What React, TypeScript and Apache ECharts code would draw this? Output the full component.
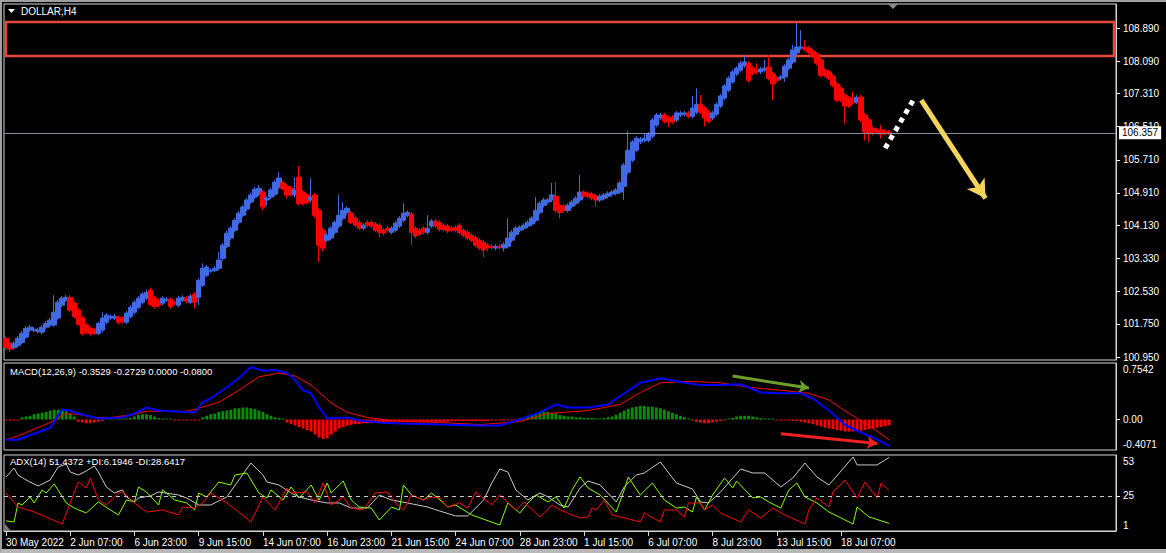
import React, { useEffect, useRef } from 'react';
import * as echarts from 'echarts';

// ---------- data ----------
const chartTitle = 'DOLLAR,H4';
const macdTitle = 'MACD(12,26,9) -0.3529 -0.2729 0.0000 -0.0800';
const adxTitle = 'ADX(14) 51.4372 +DI:6.1946 -DI:28.6417';

const timeTicks = ['30 May 2022', '2 Jun 07:00', '6 Jun 23:00', '9 Jun 15:00', '14 Jun 07:00', '16 Jun 23:00', '21 Jun 15:00', '24 Jun 07:00', '28 Jun 23:00', '1 Jul 15:00', '6 Jul 07:00', '8 Jul 23:00', '13 Jul 15:00', '18 Jul 07:00'];
const barsPerTick = 16;
const totalSlots = 277;

const priceTicks = [108.89, 108.09, 107.31, 106.51, 105.71, 104.91, 104.13, 103.33, 102.53, 101.75, 100.95];
const priceMin = 100.878;
const priceMax = 109.47;
const lastPrice = 106.357;
const zoneTop = 109.035;
const zoneBottom = 108.213;

// [open, close, low, high]
const candles = [
  [101.40,101.18,101.12,101.45],[101.28,101.14,101.07,101.32],[101.18,101.28,101.13,101.33],[101.23,101.40,101.18,101.46],[101.30,101.52,101.26,101.58],
  [101.43,101.64,101.39,101.70],[101.60,101.67,101.55,101.72],[101.60,101.62,101.55,101.68],[101.57,101.60,101.52,101.65],[101.55,101.67,101.50,101.72],
  [101.67,101.76,101.62,101.82],[101.72,101.84,101.66,101.90],[101.72,102.03,101.68,102.44],[101.89,102.27,101.85,102.33],[102.20,102.37,102.15,102.42],
  [102.32,102.39,102.28,102.45],[102.39,102.08,102.03,102.44],[102.25,101.93,101.88,102.30],[102.08,101.74,101.70,102.12],[101.89,101.52,101.47,101.93],
  [101.72,101.55,101.50,101.76],[101.64,101.52,101.45,101.68],[101.62,101.52,101.48,101.66],[101.52,101.76,101.48,101.80],[101.60,101.89,101.55,102.03],
  [101.79,101.96,101.74,102.01],[101.89,101.93,101.85,101.98],[101.89,101.93,101.84,101.99],[101.91,101.79,101.74,101.95],[101.89,101.81,101.76,101.93],
  [101.79,102.01,101.74,102.06],[101.93,102.15,101.88,102.20],[102.03,102.27,101.98,102.32],[102.15,102.37,102.10,102.42],[102.27,102.47,102.22,102.52],
  [102.37,102.51,102.32,102.58],[102.56,102.22,102.18,102.63],[102.37,102.17,102.12,102.42],[102.32,102.20,102.15,102.37],[102.25,102.37,102.20,102.42],
  [102.32,102.34,102.28,102.40],[102.34,102.17,102.12,102.39],[102.27,102.25,102.20,102.31],[102.20,102.37,102.15,102.42],[102.32,102.39,102.28,102.44],
  [102.37,102.30,102.25,102.42],[102.27,102.42,102.22,102.47],[102.47,102.27,102.12,102.52],[102.39,102.80,102.20,102.85],[102.68,103.09,102.64,103.21],
  [102.92,103.12,102.88,103.17],[103.02,103.04,102.98,103.09],[103.04,103.09,103.00,103.14],[103.09,103.29,103.05,103.48],[103.33,103.65,103.28,103.70],
  [103.62,103.94,103.57,104.00],[103.82,104.06,103.78,104.11],[104.01,104.25,103.96,104.30],[104.20,104.42,104.15,104.47],[104.37,104.57,104.32,104.62],
  [104.52,104.74,104.47,104.79],[104.69,104.86,104.64,104.92],[104.81,105.00,104.76,105.06],[104.88,105.02,104.83,105.10],[104.93,104.57,104.49,104.98],
  [104.74,104.78,104.60,104.83],[104.81,104.98,104.76,105.03],[104.88,105.17,104.83,105.22],[105.05,105.27,105.00,105.41],[105.15,105.02,104.97,105.20],
  [105.07,104.86,104.78,105.12],[105.02,104.88,104.83,105.07],[104.86,104.98,104.80,105.29],[105.29,104.66,104.61,105.56],[104.93,104.66,104.60,104.98],
  [104.86,104.69,104.64,104.91],[104.74,104.81,104.69,105.27],[104.86,104.37,104.32,104.91],[104.49,103.65,103.24,104.54],[104.01,103.58,103.50,104.06],
  [103.77,103.89,103.72,103.94],[103.82,104.06,103.77,104.11],[103.96,104.20,103.91,104.25],[104.11,104.37,104.06,104.86],[104.30,104.49,104.25,104.69],
  [104.44,104.54,104.39,104.59],[104.42,104.20,104.15,104.47],[104.30,104.13,104.08,104.35],[104.20,104.06,104.01,104.25],[104.06,104.13,104.01,104.18],
  [104.20,104.13,104.08,104.25],[104.20,104.11,104.06,104.25],[104.16,104.01,103.96,104.21],[104.13,103.96,103.84,104.18],[104.01,103.94,103.89,104.06],
  [104.06,104.01,103.96,104.11],[103.96,104.06,103.91,104.11],[104.01,104.18,103.96,104.23],[104.11,104.30,104.06,104.35],[104.25,104.42,104.20,104.66],
  [104.37,104.44,104.32,104.49],[104.40,103.96,103.65,104.45],[104.06,103.87,103.82,104.11],[104.01,103.91,103.86,104.06],[104.06,103.96,103.91,104.11],
  [103.96,104.06,103.91,104.37],[104.11,104.23,104.06,104.28],[104.23,104.11,104.06,104.28],[104.20,104.03,103.98,104.25],[104.13,104.03,103.98,104.18],
  [104.11,103.99,103.94,104.16],[104.06,104.01,103.96,104.11],[104.08,104.01,103.96,104.13],[104.13,103.96,103.91,104.18],[104.01,103.89,103.84,104.06],
  [103.96,103.82,103.77,104.01],[103.89,103.77,103.72,103.94],[103.84,103.65,103.60,103.89],[103.77,103.58,103.53,103.82],[103.72,103.53,103.36,103.77],
  [103.65,103.58,103.50,103.70],[103.62,103.60,103.55,103.67],[103.58,103.62,103.53,103.67],[103.62,103.60,103.55,103.67],[103.58,103.67,103.50,103.72],
  [103.62,103.82,103.57,104.30],[103.77,103.96,103.72,104.01],[103.91,104.06,103.86,104.11],[104.01,104.08,103.96,104.13],[104.06,104.13,104.01,104.18],
  [104.11,104.20,104.06,104.25],[104.16,104.30,104.11,104.35],[104.25,104.49,104.20,104.81],[104.44,104.66,104.39,104.71],[104.61,104.74,104.56,104.79],
  [104.69,104.74,104.64,104.79],[104.74,104.86,104.69,105.15],[104.83,104.49,104.44,105.17],[104.61,104.44,104.30,104.66],[104.59,104.49,104.44,104.64],
  [104.49,104.61,104.44,104.66],[104.59,104.69,104.54,104.74],[104.66,104.78,104.61,104.83],[104.74,104.93,104.69,105.34],[104.93,104.83,104.78,104.98],
  [104.90,104.83,104.78,104.95],[104.88,104.78,104.73,104.93],[104.83,104.74,104.57,104.88],[104.74,104.83,104.69,104.88],[104.78,104.86,104.73,104.91],
  [104.83,104.90,104.78,104.95],[104.88,104.93,104.83,104.98],[104.90,104.98,104.85,105.03],[104.93,105.15,104.88,105.20],[105.07,105.58,104.74,105.63],
  [105.41,105.94,105.36,106.40],[105.70,106.14,105.65,106.19],[105.94,106.23,105.89,106.28],[106.14,106.21,106.09,106.26],[106.18,106.23,106.13,106.35],
  [106.18,106.33,106.13,106.38],[106.28,106.67,106.23,106.72],[106.55,106.79,106.50,106.84],[106.72,106.79,106.67,106.84],[106.79,106.64,106.59,106.84],
  [106.72,106.62,106.50,106.77],[106.74,106.62,106.57,106.79],[106.67,106.84,106.62,106.89],[106.79,106.84,106.74,106.89],[106.81,106.84,106.76,106.89],
  [106.84,106.76,106.71,106.89],[106.76,106.96,106.71,107.25],[106.86,107.05,106.81,107.44],[107.05,106.86,106.81,107.27],[106.96,106.72,106.52,107.01],
  [106.86,106.64,106.59,106.91],[106.72,106.84,106.67,106.89],[106.81,107.05,106.76,107.10],[107.01,107.25,106.96,107.30],[107.20,107.49,107.15,107.54],
  [107.39,107.68,107.34,107.73],[107.59,107.83,107.54,107.88],[107.78,107.92,107.73,107.97],[107.87,108.04,107.82,108.09],[107.98,108.07,107.93,108.24],
  [108.04,107.63,107.58,108.09],[107.92,107.80,107.75,107.97],[107.87,107.83,107.78,108.04],[107.83,107.90,107.78,107.95],[107.87,107.92,107.82,108.12],
  [107.95,107.68,107.63,108.24],[107.78,107.54,107.15,107.83],[107.68,107.63,107.58,107.73],[107.68,107.71,107.63,107.76],[107.71,107.97,107.59,108.02],
  [107.92,108.12,107.87,108.17],[108.07,108.36,108.02,108.48],[108.29,108.43,108.24,109.01],[108.41,108.43,108.36,108.84],[108.41,108.38,108.33,108.60],
  [108.41,108.31,108.26,108.46],[108.33,108.21,108.16,108.38],[108.26,108.04,107.99,108.31],[108.12,107.75,107.70,108.17],[107.87,107.75,107.70,107.92],
  [107.83,107.68,107.63,107.88],[107.73,107.51,107.46,107.78],[107.54,107.15,107.10,107.59],[107.44,107.15,107.10,107.49],[107.27,107.01,106.59,107.32],
  [107.20,107.01,106.96,107.25],[107.15,107.10,107.05,107.35],[107.10,107.22,107.05,107.27],[107.22,106.67,106.62,107.27],[106.79,106.38,106.18,106.84],
  [106.67,106.35,106.14,106.72],[106.47,106.38,106.30,106.52],[106.43,106.40,106.35,106.48],[106.43,106.33,106.23,106.55],[106.40,106.35,106.30,106.45],
  [106.38,106.36,106.31,106.43],
];

// MACD
const macdMax = 0.7542;
const macdMin = -0.4071;
const macdHist = [
  -0.01,-0.01,-0.01,-0.01,0.03,0.04,0.05,0.07,0.08,0.09,
  0.1,0.12,0.13,0.13,0.13,0.11,0.08,0.04,-0.03,-0.04,
  -0.05,-0.05,-0.04,-0.03,-0.02,0.01,0.01,0.01,0.01,0.01,
  0.01,0.02,0.04,0.06,0.07,0.07,0.06,0.04,0.02,0.01,
  0.01,0.01,-0.01,-0.01,-0.01,-0.01,-0.01,-0.01,-0.01,0.03,
  0.05,0.07,0.08,0.1,0.11,0.12,0.13,0.15,0.15,0.16,
  0.16,0.15,0.14,0.12,0.1,0.07,0.05,0.03,0.02,0.01,
  -0.04,-0.06,-0.08,-0.1,-0.12,-0.14,-0.16,-0.2,-0.24,-0.26,
  -0.25,-0.2,-0.16,-0.12,-0.1,-0.08,-0.07,-0.06,-0.06,-0.05,
  -0.05,-0.05,-0.04,-0.04,-0.04,-0.04,-0.03,-0.03,-0.03,-0.03,
  -0.03,-0.03,-0.03,-0.03,-0.03,-0.03,-0.03,-0.03,-0.03,-0.03,
  -0.03,-0.02,-0.02,-0.02,-0.02,-0.02,-0.02,-0.02,-0.02,-0.02,
  -0.02,-0.01,-0.01,-0.01,-0.01,-0.01,-0.01,-0.01,0.01,0.03,
  0.05,0.07,0.08,0.09,0.1,0.1,0.09,0.08,0.06,0.05,
  0.04,0.04,0.03,0.03,0.02,0.02,0.02,0.01,0.01,0.02,
  0.03,0.04,0.06,0.09,0.12,0.14,0.16,0.17,0.18,0.18,
  0.17,0.17,0.16,0.15,0.13,0.11,0.09,0.07,0.05,0.03,
  0.01,-0.01,-0.03,-0.04,-0.05,-0.05,-0.04,-0.03,-0.02,-0.01,
  0.01,0.02,0.04,0.05,0.05,0.05,0.04,0.03,0.02,0.01,
  0.01,0.005,-0.01,-0.01,-0.01,-0.01,-0.02,-0.02,-0.03,-0.04,
  -0.05,-0.06,-0.08,-0.09,-0.11,-0.12,-0.13,-0.14,-0.15,-0.16,
  -0.16,-0.16,-0.15,-0.15,-0.14,-0.13,-0.12,-0.11,-0.1,-0.09,
  -0.08,
];
// [bar index, value]
const macdMain = [[0,-0.27],[3,-0.27],[11,-0.11],[14,0.135],[16,0.12],[18,0.08],[20,0.054],[23,0.014],[29,0.027],[32,0.08],[35,0.16],[38,0.12],[41,0.11],[47,0.095],[49,0.23],[51,0.28],[55,0.43],[58,0.55],[61,0.70],[64,0.65],[67,0.66],[70,0.62],[72,0.53],[74,0.39],[76,0.35],[78,0.16],[80,0.014],[85,0.027],[88,-0.014],[93,-0.04],[98,-0.054],[108,-0.068],[118,-0.08],[123,-0.08],[128,0],[133,0.095],[137,0.2],[140,0.16],[145,0.16],[150,0.2],[154,0.35],[158,0.49],[163,0.55],[168,0.5],[173,0.46],[178,0.46],[183,0.47],[188,0.36],[193,0.35],[198,0.35],[201,0.28],[205,0.12],[209,-0.07],[212,-0.15],[216,-0.24],[220,-0.353]];
const macdSignal = [[0,-0.27],[3,-0.22],[11,-0.04],[15,0.08],[18,0.068],[22,0.027],[26,0.027],[32,0.068],[35,0.11],[45,0.11],[48,0.15],[53,0.23],[58,0.39],[63,0.57],[68,0.62],[72,0.58],[76,0.46],[81,0.22],[85,0.095],[90,0.027],[98,-0.027],[108,-0.04],[118,-0.068],[128,-0.027],[135,0.08],[145,0.12],[153,0.2],[158,0.36],[163,0.49],[170,0.51],[178,0.49],[185,0.43],[193,0.39],[200,0.35],[205,0.26],[210,0.08],[215,-0.08],[220,-0.273]];

// ADX
const adxMax = 53;
const adxMin = 1;
const adxLevel = 25;
const adxMain = [[0,37.9],[2,44.1],[3,39.3],[5,35.9],[8,31.8],[11,35.9],[13,44.8],[15,46.8],[16,41.4],[18,39.3],[20,42.1],[22,45.5],[23,41.4],[25,31.1],[27,27.0],[29,29.1],[30,24.3],[32,20.9],[33,23.6],[36,25.0],[38,27.7],[43,25.6],[45,23.6],[48,18.8],[51,18.8],[55,24.3],[58,35.9],[61,47.5],[64,39.3],[65,34.5],[68,32.5],[71,27.0],[73,24.3],[76,22.2],[80,20.2],[83,20.2],[86,16.7],[90,16.7],[93,25.6],[96,22.2],[100,20.2],[105,17.4],[108,14.7],[112,11.3],[115,11.3],[119,22.2],[121,33.8],[123,43.4],[125,41.4],[127,29.1],[130,22.2],[133,27.0],[135,24.3],[138,18.8],[140,17.4],[143,30.4],[145,35.2],[148,32.5],[152,20.9],[154,31.1],[157,39.3],[159,40.7],[163,48.2],[167,33.8],[171,29.7],[173,20.9],[175,20.2],[178,27.7],[183,43.4],[186,40.7],[189,40.7],[193,31.1],[196,37.3],[199,47.5],[202,38.0],[205,32.5],[211,51.6],[212,46.2],[217,46.2],[220,51.4]];
const plusDI = [[0,7.9],[2,7.2],[3,20.2],[4,18.8],[6,24.3],[7,20.2],[9,29.1],[10,27.0],[12,33.2],[15,20.2],[17,16.7],[20,13.3],[23,20.9],[26,15.4],[28,12.0],[30,22.2],[32,20.9],[33,31.1],[35,27.7],[38,18.8],[39,29.1],[42,22.2],[45,20.2],[47,15.4],[48,27.0],[50,24.3],[53,34.5],[56,32.5],[57,39.3],[60,40.7],[63,27.0],[65,23.6],[66,29.1],[69,22.2],[71,31.1],[73,23.6],[76,32.5],[78,22.2],[80,33.8],[81,27.0],[84,35.2],[86,22.2],[88,17.4],[91,16.7],[93,8.5],[96,17.4],[98,15.4],[99,32.5],[101,25.6],[104,22.2],[106,27.0],[109,20.2],[110,17.4],[112,18.8],[116,12.0],[123,5.1],[125,20.2],[128,13.3],[130,20.2],[132,25.6],[135,20.9],[137,24.3],[139,16.7],[141,29.1],[143,38.0],[145,30.4],[148,25.6],[152,14.0],[154,29.1],[155,38.0],[158,25.6],[161,33.8],[164,22.2],[167,16.7],[169,17.4],[171,14.0],[172,24.3],[174,15.4],[176,25.6],[179,37.3],[181,30.4],[182,35.2],[186,23.6],[188,24.3],[190,20.9],[193,16.7],[195,29.1],[197,33.8],[199,24.3],[202,20.2],[205,14.0],[211,5.8],[212,17.4],[215,10.6],[220,6.2]];
const minusDI = [[0,27.0],[3,17.4],[7,14.0],[10,10.6],[14,5.8],[18,34.5],[20,30.4],[21,37.3],[23,22.2],[25,18.8],[28,27.0],[29,27.7],[32,20.2],[35,14.0],[39,15.4],[43,12.0],[44,17.4],[47,16.7],[49,20.2],[51,27.0],[55,20.2],[58,14.0],[61,7.2],[64,24.3],[67,15.4],[70,30.4],[71,27.0],[75,27.7],[77,20.2],[79,33.8],[81,18.8],[84,24.3],[86,16.7],[89,15.4],[92,27.0],[95,27.7],[97,20.2],[99,15.4],[101,25.6],[104,22.2],[106,24.3],[108,23.6],[110,17.4],[113,20.2],[115,16.7],[117,27.7],[121,18.8],[123,25.6],[127,15.4],[129,20.9],[133,10.6],[136,18.8],[138,15.4],[141,12.0],[143,9.9],[145,10.6],[146,16.7],[147,15.4],[149,22.2],[151,12.0],[158,7.2],[159,13.3],[163,7.2],[164,15.4],[167,15.4],[169,10.6],[170,20.2],[173,20.2],[174,15.4],[176,18.8],[178,13.3],[183,7.2],[185,15.4],[188,9.9],[191,16.7],[194,12.0],[199,5.8],[200,15.4],[202,23.6],[205,17.4],[206,27.7],[209,35.9],[212,23.6],[214,34.5],[217,23.6],[218,33.8],[220,28.6]];

// drawn annotations: [bar index, value]
const yellowArrow = [[228, 107.15], [244, 104.78]];
const whiteDots = [[219, 105.99], [226, 107.15]];
const greenArrow = [[181, 0.58], [200, 0.42]];
const redArrow = [[193, -0.19], [217, -0.32]];

// ---------- component ----------
export default function App() {
  const ref = useRef<HTMLDivElement>(null);

  useEffect(() => {
    const chart = echarts.init(ref.current!, null, { renderer: 'svg' });
    const cats = Array.from({ length: totalSlots }, (_, i) => String(i));
    const font = 'Liberation Sans, Arial, sans-serif';
    const white = '#ffffff';
    const frame = '#d4d4d4';
    const L = 4;
    const W = 1112;
    const grids = [
      { left: L, top: 4, width: W, height: 356 },
      { left: L, top: 363, width: W, height: 87 },
      { left: L, top: 455, width: W, height: 76 },
    ].map((g) => ({ ...g, show: true, borderColor: frame, borderWidth: 1, backgroundColor: 'transparent', containLabel: false }));

    const tickShown = (idx: number) => idx % barsPerTick === 0 && idx / barsPerTick < timeTicks.length;

    const xAxes = [0, 1, 2].map((gi) => ({
      type: 'category',
      gridIndex: gi,
      data: cats,
      boundaryGap: true,
      show: gi === 2,
      axisLine: { show: true, lineStyle: { color: frame, width: 1 } },
      axisTick: { show: true, alignWithLabel: true, interval: (i: number) => tickShown(i), length: 5, lineStyle: { color: frame } },
      axisLabel: {
        show: true,
        interval: (i: number) => tickShown(i),
        formatter: (_v: string, i: number) => timeTicks[i / barsPerTick] ?? '',
        align: 'left',
        color: white,
        fontSize: 10,
        fontFamily: font,
        margin: 6,
      },
      splitLine: { show: false },
    }));

    const yCommon = {
      type: 'value',
      position: 'right',
      splitLine: { show: false },
      axisLine: { show: true, lineStyle: { color: frame } },
    };
    const lblStyle = { color: white, fontSize: 10, fontFamily: font, margin: 7, lineHeight: 12 };

    const yAxes = [
      {
        ...yCommon,
        gridIndex: 0,
        min: priceMin,
        max: priceMax,
        axisTick: { show: true, customValues: priceTicks, length: 4, lineStyle: { color: white } },
        axisLabel: { ...lblStyle, customValues: priceTicks, formatter: (v: number) => v.toFixed(3) },
      },
      {
        ...yCommon,
        gridIndex: 1,
        min: macdMin,
        max: macdMax,
        axisTick: { show: true, customValues: [0], length: 4, lineStyle: { color: white } },
        axisLabel: {
          ...lblStyle,
          customValues: [macdMax, 0, macdMin],
          formatter: (v: number) => (v === macdMax ? '\n' + macdMax.toFixed(4) : v === macdMin ? macdMin.toFixed(4) + '\n' : '0.00'),
        },
      },
      {
        ...yCommon,
        gridIndex: 2,
        min: adxMin,
        max: adxMax,
        axisTick: { show: true, customValues: [adxLevel], length: 4, lineStyle: { color: white } },
        axisLabel: {
          ...lblStyle,
          customValues: [adxMax, adxLevel, adxMin],
          formatter: (v: number) => (v === adxMax ? '\n' + adxMax : v === adxMin ? adxMin + '\n' : String(v)),
        },
      },
    ];

    const pt = (p: number[], extra: any = {}) => ({ coord: [String(p[0]), p[1]], ...extra });
    const titleStyle = { color: white, fontSize: 10, fontWeight: 'normal', fontFamily: font };

    const option: any = {
      animation: false,
      backgroundColor: '#000000',
      textStyle: { fontFamily: font },
      title: [
        { text: chartTitle, left: 21, top: 6, padding: 0, textStyle: titleStyle },
        { text: macdTitle, left: 10, top: 366, padding: 0, textStyle: { ...titleStyle, fontSize: 9.5 } },
        { text: adxTitle, left: 10, top: 456, padding: 0, textStyle: { ...titleStyle, fontSize: 9.5 } },
      ],
      graphic: [
        { type: 'polygon', shape: { points: [[8, 9], [15, 9], [11.5, 13]] }, style: { fill: white } },
        { type: 'polygon', shape: { points: [[888, 4], [898, 4], [893, 9]] }, style: { fill: '#8a8a8a' } },
        { type: 'polygon', shape: { points: [[5, 524], [5, 531], [11, 531]] }, style: { fill: '#7a7a7a' } },
      ],
      grid: grids,
      xAxis: xAxes,
      yAxis: yAxes,
      series: [
        {
          name: 'price',
          type: 'candlestick',
          xAxisIndex: 0,
          yAxisIndex: 0,
          data: candles,
          barWidth: 5,
          itemStyle: { color: '#4169E1', color0: '#FF0000', borderColor: '#4169E1', borderColor0: '#FF0000', borderWidth: 1 },
          markArea: {
            silent: true,
            itemStyle: { color: 'transparent', borderColor: '#E8453C', borderWidth: 2.5 },
            data: [[{ xAxis: '0', yAxis: zoneTop }, { xAxis: String(totalSlots - 1), yAxis: zoneBottom }]],
          },
          markLine: {
            silent: true,
            symbol: ['none', 'none'],
            label: { show: false },
            data: [
              {
                yAxis: lastPrice,
                lineStyle: { color: '#7b8fa0', width: 1, type: 'solid' },
                label: {
                  show: true,
                  position: 'end',
                  formatter: lastPrice.toFixed(3),
                  backgroundColor: '#ffffff',
                  color: '#000000',
                  fontSize: 10,
                  fontFamily: font,
                  padding: [2, 3, 1, 3],
                  distance: 3,
                },
              },
              [
                pt(yellowArrow[0], { symbol: 'none', lineStyle: { color: '#F4D35E', width: 5, type: 'solid' } }),
                pt(yellowArrow[1], { symbol: 'arrow', symbolSize: [16, 18] }),
              ],
              [
                pt(whiteDots[0], { symbol: 'none', lineStyle: { color: '#ffffff', width: 5, type: [5, 5], cap: 'butt' } }),
                pt(whiteDots[1], { symbol: 'none' }),
              ],
            ],
          },
          z: 3,
        },
        {
          name: 'hist',
          type: 'bar',
          xAxisIndex: 1,
          yAxisIndex: 1,
          data: macdHist,
          barWidth: '72%',
          barMinHeight: 1,
          itemStyle: { color: (p: any) => (p.value >= 0 ? '#009000' : '#FF0000') },
        },
        {
          name: 'signal',
          type: 'line',
          xAxisIndex: 1,
          yAxisIndex: 1,
          data: macdSignal,
          symbol: 'none',
          lineStyle: { color: '#FF0000', width: 1 },
          z: 4,
        },
        {
          name: 'main',
          type: 'line',
          xAxisIndex: 1,
          yAxisIndex: 1,
          data: macdMain,
          symbol: 'none',
          lineStyle: { color: '#0000FF', width: 2 },
          z: 5,
          markLine: {
            silent: true,
            symbol: ['none', 'none'],
            label: { show: false },
            data: [
              [
                pt(greenArrow[0], { symbol: 'none', lineStyle: { color: '#6E9E2A', width: 3, type: 'solid' } }),
                pt(greenArrow[1], { symbol: 'arrow', symbolSize: [10, 10] }),
              ],
              [
                pt(redArrow[0], { symbol: 'none', lineStyle: { color: '#F22020', width: 3, type: 'solid' } }),
                pt(redArrow[1], { symbol: 'arrow', symbolSize: [10, 10] }),
              ],
            ],
          },
        },
        {
          name: 'ADX',
          type: 'line',
          xAxisIndex: 2,
          yAxisIndex: 2,
          data: adxMain,
          symbol: 'none',
          lineStyle: { color: '#c8c8c8', width: 1 },
          markLine: {
            silent: true,
            symbol: ['none', 'none'],
            label: { show: false },
            lineStyle: { color: '#c8c8c8', width: 1, type: [4, 4] },
            data: [{ yAxis: adxLevel }],
          },
        },
        {
          name: '+DI',
          type: 'line',
          xAxisIndex: 2,
          yAxisIndex: 2,
          data: plusDI,
          symbol: 'none',
          lineStyle: { color: '#80FF00', width: 1 },
        },
        {
          name: '-DI',
          type: 'line',
          xAxisIndex: 2,
          yAxisIndex: 2,
          data: minusDI,
          symbol: 'none',
          lineStyle: { color: '#FF0000', width: 1 },
        },
      ],
    };

    chart.setOption(option);
    return () => chart.dispose();
  }, []);

  return (
    <div style={{ position: 'fixed', left: 0, top: 0, width: 1166, height: 553, background: '#000', overflow: 'hidden' }}>
      <div ref={ref} style={{ position: 'absolute', left: 0, top: 0, width: 1166, height: 553 }} />
      <div
        style={{
          position: 'absolute',
          left: 0,
          top: 0,
          width: 1166,
          height: 553,
          boxSizing: 'border-box',
          borderTop: '2px solid #a0a0a0',
          borderLeft: '2px solid #a0a0a0',
          borderBottom: '4px solid #b8b8b8',
          pointerEvents: 'none',
        }}
      />
    </div>
  );
}
